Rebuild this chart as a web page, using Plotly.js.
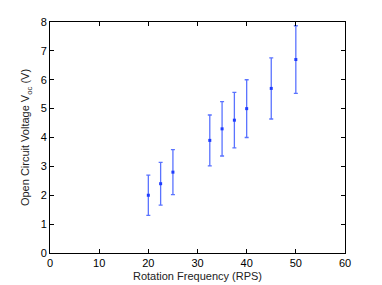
<!DOCTYPE html>
<html>
<head>
<meta charset="utf-8">
<script src="https://cdn.plot.ly/plotly-3.0.1.min.js"></script>
<style>html,body{margin:0;padding:0;background:#fff;}#chart{width:382px;height:285px;}</style>
</head>
<body>
<div id="chart"></div>
<script>
const rps = [20, 22.5, 25, 32.5, 35, 37.5, 40, 45, 50];
const voc = [2.0, 2.4, 2.8, 3.9, 4.3, 4.6, 5.0, 5.7, 6.7];
const vocErr = [0.7, 0.74, 0.78, 0.88, 0.94, 0.96, 1.0, 1.06, 1.17];
const xTicks = [0, 10, 20, 30, 40, 50, 60];
const yTicks = [0, 1, 2, 3, 4, 5, 6, 7, 8];

const trace = {
  x: rps, y: voc, type: 'scatter', mode: 'markers',
  marker: {color: '#1f3cff', size: 3, symbol: 'square'},
  error_y: {type: 'data', array: vocErr, visible: true, color: '#5a73ff', thickness: 1.3, width: 2}
};
const axisCommon = {
  showline: true, linecolor: '#000', linewidth: 1, mirror: 'ticks',
  ticks: 'inside', ticklen: 4, tickcolor: '#000', showgrid: false, zeroline: false,
  tickfont: {family: 'Liberation Sans, Arial, sans-serif', size: 11, color: '#000'}
};
const layout = {
  width: 382, height: 285,
  margin: {l: 50, r: 37, t: 22, b: 32, pad: 0},
  paper_bgcolor: '#fff', plot_bgcolor: '#fff', showlegend: false,
  xaxis: Object.assign({}, axisCommon, {range: [0, 60], tickvals: xTicks,
    title: {text: 'Rotation Frequency (RPS)', standoff: 4, font: {family: 'Liberation Sans, Arial, sans-serif', size: 11, color: '#222'}}}),
  yaxis: Object.assign({}, axisCommon, {range: [0, 8], tickvals: yTicks,
    title: {text: 'Open Circuit Voltage V<sub>oc</sub> (V)', standoff: 8, font: {family: 'Liberation Sans, Arial, sans-serif', size: 11, color: '#222'}}})
};
Plotly.newPlot('chart', [trace], layout, {displayModeBar: false, staticPlot: true});
</script>
</body>
</html>
